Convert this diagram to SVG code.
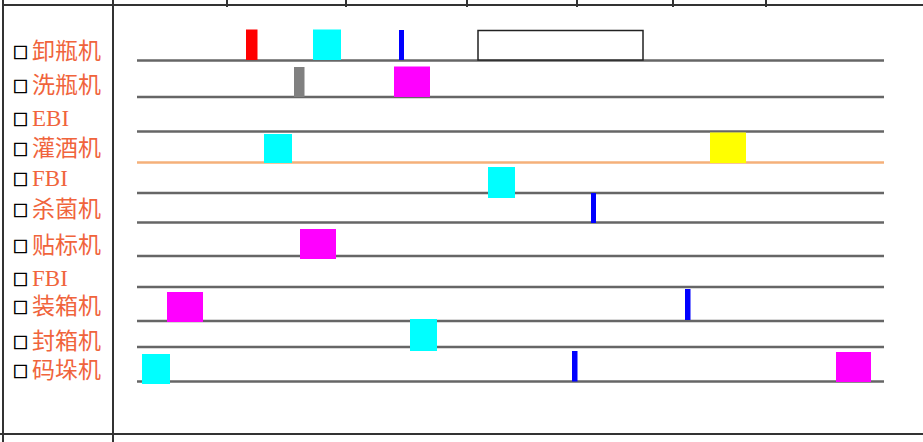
<svg xmlns="http://www.w3.org/2000/svg" width="923" height="442" viewBox="0 0 923 442">
<style>
.frame{stroke:#333;stroke-width:2;fill:none}
.track{stroke:#666;stroke-width:2.5;fill:none}
.lbl{font-family:"Liberation Serif","Noto Sans CJK SC",serif;font-size:23px;fill:#f0643c}
.box{font-family:"Noto Sans CJK SC","DejaVu Sans",sans-serif;font-size:15px;fill:#000;stroke:#000;stroke-width:0.7}
</style>
<rect width="923" height="442" fill="#fff"/>
<g id="frame">
<line class="frame" x1="3" y1="0" x2="3" y2="442"/>
<line class="frame" x1="113" y1="0" x2="113" y2="442"/>
<line class="frame" x1="3" y1="5" x2="923" y2="5"/>
<line class="frame" x1="0" y1="434" x2="923" y2="434"/>
<line class="frame" x1="227" y1="0" x2="227" y2="7"/>
<line class="frame" x1="346" y1="0" x2="346" y2="7"/>
<line class="frame" x1="467" y1="0" x2="467" y2="7"/>
<line class="frame" x1="577" y1="0" x2="577" y2="7"/>
<line class="frame" x1="673" y1="0" x2="673" y2="7"/>
<line class="frame" x1="766" y1="0" x2="766" y2="7"/>
</g>
<g id="labels">
<text x="13" y="58" class="box">□</text><text x="32" y="59" class="lbl">卸瓶机</text>
<text x="13" y="92" class="box">□</text><text x="32" y="93" class="lbl">洗瓶机</text>
<text x="13" y="125" class="box">□</text><text x="32" y="126" class="lbl">EBI</text>
<text x="13" y="155" class="box">□</text><text x="32" y="156" class="lbl">灌酒机</text>
<text x="13" y="185" class="box">□</text><text x="32" y="186" class="lbl">FBI</text>
<text x="13" y="216" class="box">□</text><text x="32" y="217" class="lbl">杀菌机</text>
<text x="13" y="252" class="box">□</text><text x="32" y="253" class="lbl">贴标机</text>
<text x="13" y="285" class="box">□</text><text x="32" y="286" class="lbl">FBI</text>
<text x="13" y="313" class="box">□</text><text x="32" y="314" class="lbl">装箱机</text>
<text x="13" y="348" class="box">□</text><text x="32" y="349" class="lbl">封箱机</text>
<text x="13" y="377" class="box">□</text><text x="32" y="378" class="lbl">码垛机</text>
</g>
<g id="tracks">
<line class="track" x1="137" y1="60.5" x2="884" y2="60.5"/>
<line class="track" x1="137" y1="97" x2="884" y2="97"/>
<line class="track" x1="137" y1="131.5" x2="884" y2="131.5"/>
<line x1="137" y1="162.5" x2="884" y2="162.5" stroke="#f5b07a" stroke-width="2.5"/>
<line class="track" x1="137" y1="193" x2="884" y2="193"/>
<line class="track" x1="137" y1="222.5" x2="884" y2="222.5"/>
<line class="track" x1="137" y1="256" x2="884" y2="256"/>
<line class="track" x1="137" y1="287" x2="884" y2="287"/>
<line class="track" x1="137" y1="321" x2="884" y2="321"/>
<line class="track" x1="137" y1="347" x2="884" y2="347"/>
<line class="track" x1="137" y1="381.5" x2="884" y2="381.5"/>
</g>
<g id="bars">
<rect x="246" y="29.5" width="11.5" height="30.5" fill="#ff0000"/>
<rect x="313" y="29.5" width="28" height="30.5" fill="#00ffff"/>
<rect x="399" y="30" width="5" height="30" fill="#0000ff"/>
<rect x="478" y="30.5" width="165" height="29.5" fill="#fff" stroke="#222" stroke-width="1.5"/>
<rect x="294" y="67" width="10.5" height="30" fill="#808080"/>
<rect x="394" y="66.5" width="36" height="30.5" fill="#ff00ff"/>
<rect x="264" y="134" width="28" height="29" fill="#00ffff"/>
<rect x="710" y="132.5" width="36" height="30.5" fill="#ffff00"/>
<rect x="488" y="167" width="27" height="31" fill="#00ffff"/>
<rect x="591" y="193" width="5" height="30" fill="#0000ff"/>
<rect x="300" y="229" width="36" height="30" fill="#ff00ff"/>
<rect x="167" y="292" width="36" height="30" fill="#ff00ff"/>
<rect x="685" y="289" width="5.5" height="31" fill="#0000ff"/>
<rect x="410" y="319" width="27" height="32" fill="#00ffff"/>
<rect x="142" y="354" width="28" height="30" fill="#00ffff"/>
<rect x="572" y="351" width="5.5" height="30.5" fill="#0000ff"/>
<rect x="836" y="352" width="35" height="30" fill="#ff00ff"/>
</g>
</svg>
